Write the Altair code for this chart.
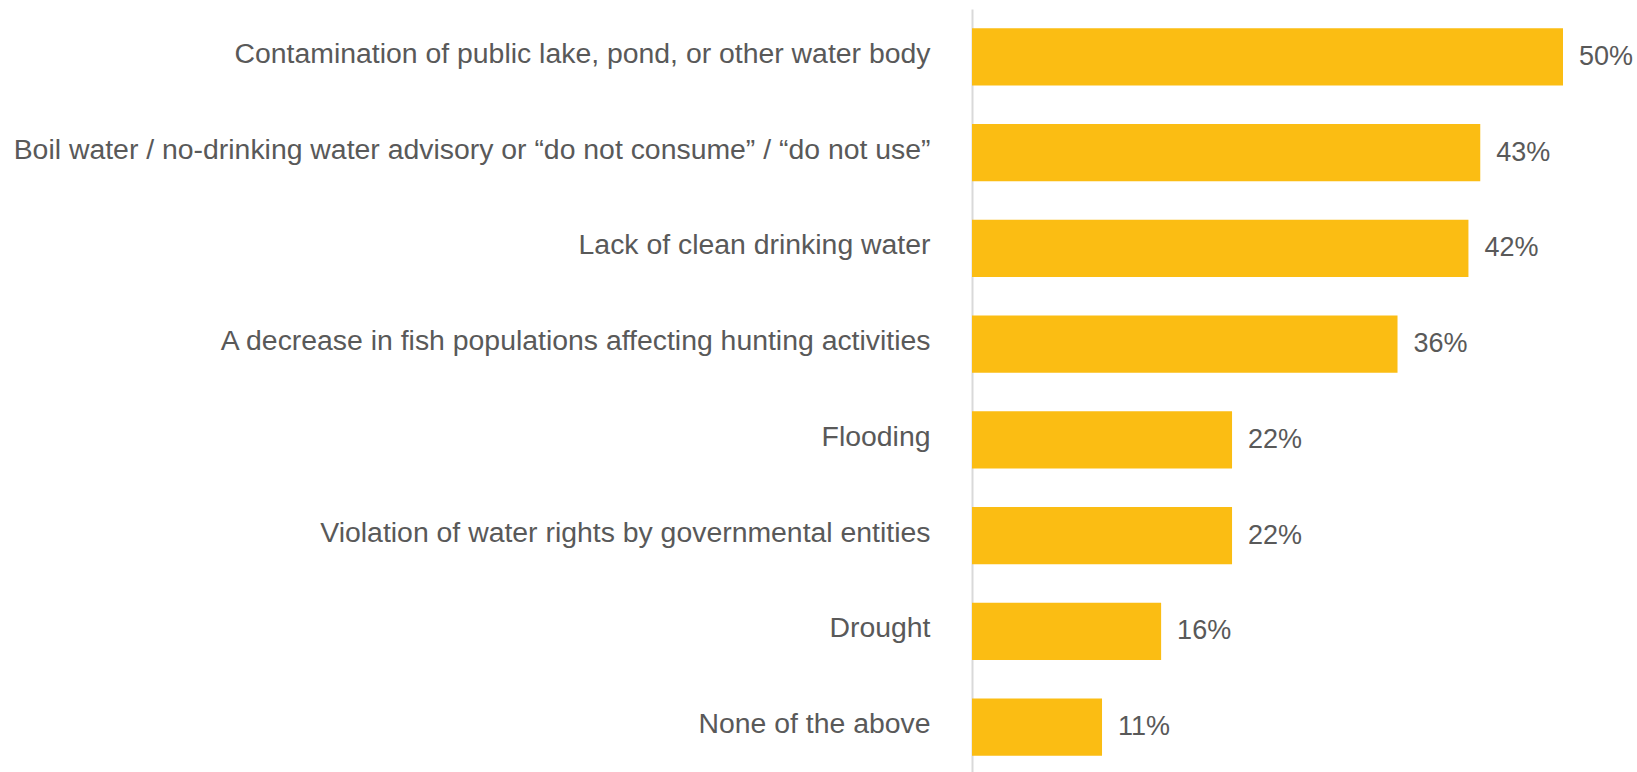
import altair as alt
import pandas as pd

categories = [
    "Contamination of public lake, pond, or other water body",
    "Boil water / no-drinking water advisory or \u201cdo not consume\u201d / \u201cdo not use\u201d",
    "Lack of clean drinking water",
    "A decrease in fish populations affecting hunting activities",
    "Flooding",
    "Violation of water rights by governmental entities",
    "Drought",
    "None of the above",
]
values = [50, 43, 42, 36, 22, 22, 16, 11]
labels = [f"{v}%" for v in values]

df = pd.DataFrame({"category": categories, "value": values, "label": labels})

FONT = "Liberation Sans"
GREY = "#595959"

y = alt.Y(
    "category:N",
    sort=categories,
    scale=alt.Scale(paddingInner=0.4, paddingOuter=0.2),
    axis=alt.Axis(
        title=None,
        ticks=False,
        labelFontSize=28.4,
        labelColor=GREY,
        labelFont=FONT,
        labelPadding=42,
        labelOffset=-3,
        labelLimit=1200,
        domainColor="#D9D9D9",
        domainWidth=2,
        grid=False,
    ),
)
x = alt.X("value:Q", scale=alt.Scale(domain=[0, 50], nice=False), axis=None)

bars = alt.Chart(df).mark_bar(color="#FBBD13").encode(x=x, y=y)
text = alt.Chart(df).mark_text(
    align="left", baseline="middle", dx=16, fontSize=27, color=GREY, font=FONT
).encode(x=x, y=y, text="label:N")

chart = (
    (bars + text)
    .properties(
        width=591,
        height=766,
        padding={"left": 972, "top": 9, "right": 74, "bottom": 0},
        autosize=alt.AutoSizeParams(type="none"),
        background="white",
    )
    .configure_view(stroke=None)
)

chart.save("out.html", embed_options={"renderer": "svg", "actions": False})
